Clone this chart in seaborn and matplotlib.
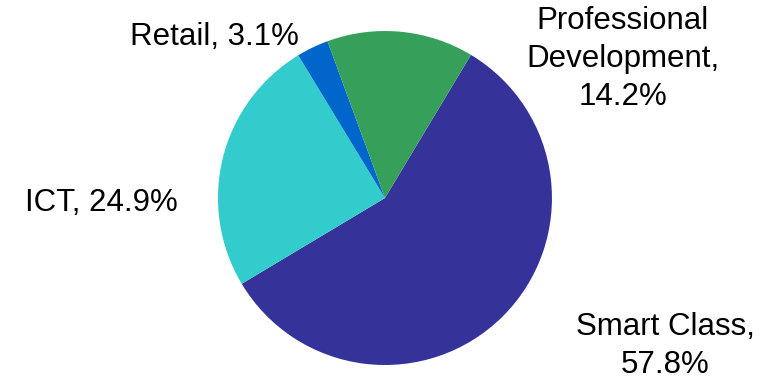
import matplotlib
matplotlib.use("Agg")
import matplotlib.pyplot as plt
import seaborn as sns

# Revenue share by business segment
segments = ["Smart Class", "ICT", "Retail", "Professional Development"]
shares = [57.8, 24.9, 3.1, 14.2]
colors = ["#35339a", "#33cccc", "#0066cc", "#36a05a"]

# label text layout and anchor points (in pie-axes units) for each segment
label_fmt = ["{name},\n{val:.1f}%", "{name}, {val:.1f}%", "{name}, {val:.1f}%",
             "Professional\nDevelopment,\n{val:.1f}%"]
label_pos = [(1.68, -0.885), (-1.70, -0.03), (-1.02, 0.965), (1.425, 0.83)]

sns.set_theme(style="white")
plt.rcParams["font.family"] = ["Liberation Sans", "DejaVu Sans"]

fig = plt.figure(figsize=(7.71, 3.82), dpi=100)
ax = fig.add_axes([0.2827, 0.0445, 0.4332, 0.8743])

ax.pie(
    shares,
    colors=colors,
    startangle=59,
    counterclock=False,
    radius=1.0,
    wedgeprops=dict(linewidth=0),
)
ax.set_xlim(-1, 1)
ax.set_ylim(-1, 1)
ax.set_aspect("equal")

for name, val, fmt, (x, y) in zip(segments, shares, label_fmt, label_pos):
    ax.text(x, y, fmt.format(name=name, val=val),
            ha="center", va="center", fontsize=22.5, color="black",
            linespacing=1.35, clip_on=False)

fig.savefig("out.png", dpi=100, facecolor="white")
